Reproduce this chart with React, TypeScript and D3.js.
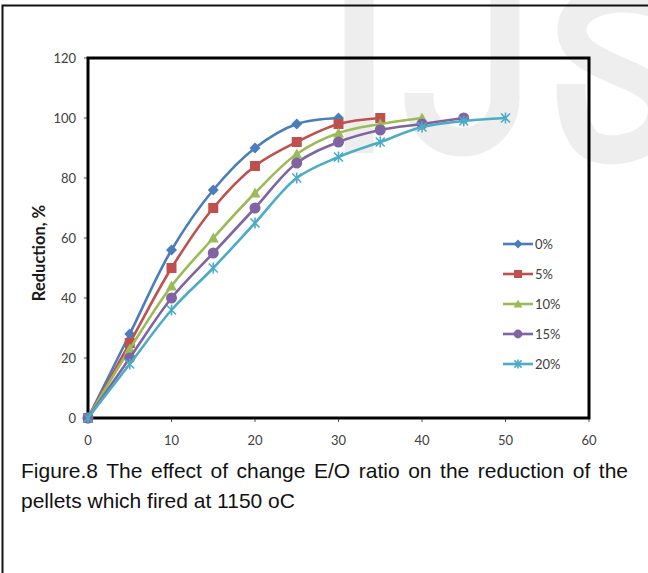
import React, { useLayoutEffect, useRef, useState } from "react";
import * as d3 from "d3";

const X_TICKS = [0, 10, 20, 30, 40, 50, 60];
const Y_TICKS = [0, 20, 40, 60, 80, 100, 120];
const TIME = [0, 5, 10, 15, 20, 25, 30, 35, 40, 45, 50];
const SERIES_NAMES = ["0%", "5%", "10%", "15%", "20%"];
const S0 = [0, 28, 56, 76, 90, 98, 100];
const S5 = [0, 25, 50, 70, 84, 92, 98, 100];
const S10 = [0, 23, 44, 60, 75, 88, 95, 98, 100];
const S15 = [0, 20, 40, 55, 70, 85, 92, 96, 98, 100];
const S20 = [0, 18, 36, 50, 65, 80, 87, 92, 97, 99, 100];
const COLORS = ["#4A7EBB", "#C0504D", "#9BBB59", "#8064A2", "#4BACC6"];
const MARKERS = ["diamond", "square", "triangle", "circle", "star"];
const CAPTION1 = "Figure.8 The effect of change E/O ratio on the reduction of the";
const CAPTION2 = "pellets which fired at 1150 oC";

const SERIES = [S0, S5, S10, S15, S20];

function Marker({ kind, color, s = 1 }: { kind: string; color: string; s?: number }) {
  if (kind === "diamond") return <path d={`M0,${-5.5 * s}L${5.5 * s},0L0,${5.5 * s}L${-5.5 * s},0Z`} fill={color} />;
  if (kind === "square") return <rect x={-5 * s} y={-5 * s} width={10 * s} height={10 * s} fill={color} />;
  if (kind === "triangle") return <path d={`M0,${-5.5 * s}L${5.5 * s},${4.5 * s}L${-5.5 * s},${4.5 * s}Z`} fill={color} />;
  if (kind === "circle") return <circle r={5.5 * s} fill={color} />;
  const r = 4.5 * s;
  return (
    <path
      d={`M${-r},${-r}L${r},${r}M${-r},${r}L${r},${-r}M0,${-r - 1}L0,${r + 1}`}
      stroke={color}
      strokeWidth={1.6}
      fill="none"
    />
  );
}

export default function App() {
  const x = d3.scaleLinear().domain([0, 60]).range([88, 589]);
  const y = d3.scaleLinear().domain([0, 120]).range([418, 58]);
  const line = d3
    .line<[number, number]>()
    .x((d) => x(d[0]))
    .y((d) => y(d[1]))
    .curve(d3.curveCatmullRom.alpha(0.5));

  const capRef = useRef<SVGTextElement>(null);
  const [ws, setWs] = useState(0);
  useLayoutEffect(() => {
    if (capRef.current) {
      const natural = capRef.current.getComputedTextLength();
      const spaces = CAPTION1.split(" ").length - 1;
      const target = 628 - 21;
      setWs(Math.max(0, (target - natural) / spaces));
    }
  }, []);

  const tickFont = { fontFamily: "Lato, 'Open Sans', sans-serif", fontSize: 13, fill: "#404040" };
  const capFont = { fontFamily: "'Liberation Sans', Arial, sans-serif", fontSize: 21, fill: "#111" };

  return (
    <svg
      width={648}
      height={573}
      style={{ position: "absolute", left: 0, top: 0, background: "#fff" }}
    >
      {/* watermark */}
      <g stroke="#eeeeee" fill="none" strokeWidth={29}>
        <line x1={359} y1={-10} x2={359} y2={153} />
        <path d="M505,-10L505,99A43,43 0 0 1 419,99L419,93" />
        <path d="M690,22C650,-14 572,-8 572,30C572,70 655,70 662,104C668,150 600,160 585,140C575,128 571,110 571,84" />
      </g>

      {/* outer frame */}
      <path d="M648,5.5H2.5V573" stroke="#111" strokeWidth={2} fill="none" />

      {/* ticks */}
      {Y_TICKS.map((t) => (
        <g key={"y" + t}>
          <line x1={84} x2={88} y1={y(t)} y2={y(t)} stroke="#555" strokeWidth={1} />
          <text x={76} y={y(t)} dy="0.35em" textAnchor="end" {...tickFont}>
            {t}
          </text>
        </g>
      ))}
      {X_TICKS.map((t) => (
        <g key={"x" + t}>
          <line x1={x(t)} x2={x(t)} y1={418} y2={422} stroke="#555" strokeWidth={1} />
          <text x={x(t)} y={445} textAnchor="middle" {...tickFont}>
            {t}
          </text>
        </g>
      ))}

      {/* plot border */}
      <rect x={88} y={58} width={501} height={360} fill="none" stroke="#000" strokeWidth={3} />

      {/* y title */}
      <text
        transform="translate(45,253) rotate(-90)"
        textAnchor="middle"
        fontFamily="Lato, 'Open Sans', sans-serif"
        fontWeight="bold"
        fontSize={16.5}
        fill="#1a1a1a"
      >
        Reduction, %
      </text>

      {/* series */}
      {SERIES.map((vals, i) => {
        const pts: [number, number][] = vals.map((v, j) => [TIME[j], v]);
        return (
          <g key={SERIES_NAMES[i]}>
            <path d={line(pts) || ""} fill="none" stroke={COLORS[i]} strokeWidth={2.6} />
            {pts.map((p, j) => (
              <g key={j} transform={`translate(${x(p[0])},${y(p[1])})`}>
                <Marker kind={MARKERS[i]} color={COLORS[i]} />
              </g>
            ))}
          </g>
        );
      })}

      {/* legend */}
      {SERIES_NAMES.map((name, i) => {
        const ly = 244 + i * 30;
        return (
          <g key={"lg" + name}>
            <line x1={503} x2={533} y1={ly} y2={ly} stroke={COLORS[i]} strokeWidth={2.6} />
            <g transform={`translate(518,${ly})`}>
              <Marker kind={MARKERS[i]} color={COLORS[i]} s={0.8} />
            </g>
            <text x={535} y={ly} dy="0.35em" {...tickFont}>
              {name}
            </text>
          </g>
        );
      })}

      {/* caption */}
      <text ref={capRef} x={21} y={478} wordSpacing={ws} {...capFont}>
        {CAPTION1}
      </text>
      <text x={21} y={508} {...capFont}>
        {CAPTION2}
      </text>
    </svg>
  );
}
